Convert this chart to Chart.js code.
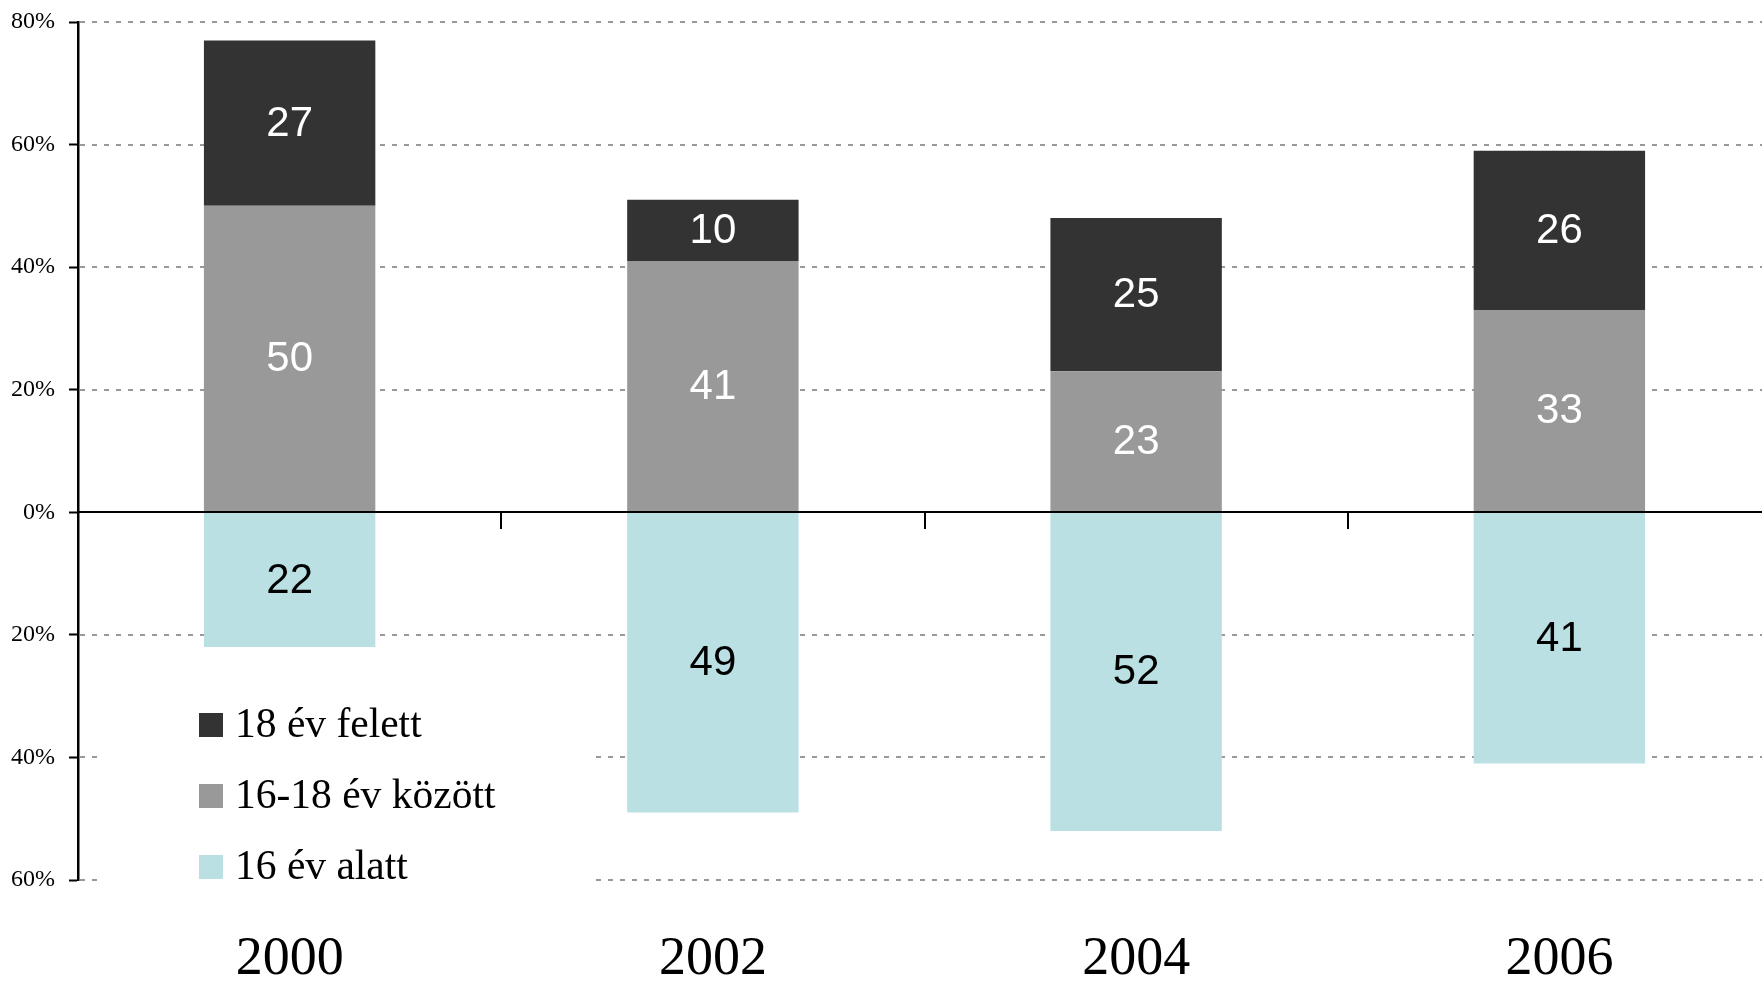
<!DOCTYPE html>
<html>
<head>
<meta charset="utf-8">
<script src="https://cdn.jsdelivr.net/npm/chart.js@4"></script>
<style>
  html, body { margin: 0; background: #fff; overflow: hidden; }
  #wrap { width: 1771px; height: 982px; position: relative; }
</style>
</head>
<body>
<div id="wrap"><canvas id="chart"></canvas></div>
<script>
// adatok
const years = ["2000", "2002", "2004", "2006"];
const felett = [27, 10, 25, 26];   // 18 év felett
const kozott = [50, 41, 23, 33];   // 16-18 év között
const alatt = [22, 49, 52, 41];    // 16 év alatt (lefelé)
const yMin = -60, yMax = 80, yStep = 20;

const colDark = "#333333";
const colGray = "#999999";
const colLight = "#bae0e3";
const serif = "'Liberation Serif', 'Times New Roman', serif";

// szaggatott rácsvonalak, nulla vonal, feliratok, jelmagyarázat
const extras = {
    id: "extras",
    beforeDatasetsDraw(chart) {
        const ctx = chart.ctx;
        const area = chart.chartArea;
        const y = chart.scales.y;
        ctx.save();
        ctx.strokeStyle = "#999999";
        ctx.lineWidth = 2;
        ctx.setLineDash([5, 7]);
        y.ticks.forEach(t => {
            if (t.value === 0) return;
            const py = Math.round(y.getPixelForValue(t.value));
            ctx.beginPath();
            ctx.moveTo(area.left + 2, py);
            ctx.lineTo(area.right, py);
            ctx.stroke();
        });
        ctx.restore();
    },
    afterDatasetsDraw(chart) {
        const ctx = chart.ctx;
        const area = chart.chartArea;
        const y = chart.scales.y;
        const x = chart.scales.x;
        ctx.save();
        // nulla vonal
        const zy = Math.round(y.getPixelForValue(0));
        ctx.strokeStyle = "#000";
        ctx.lineWidth = 2;
        ctx.beginPath();
        ctx.moveTo(area.left, zy);
        ctx.lineTo(area.right, zy);
        ctx.stroke();
        for (let i = 0; i < years.length - 1; i++) {
            const px = Math.round((x.getPixelForValue(i) + x.getPixelForValue(i + 1)) / 2);
            ctx.beginPath();
            ctx.moveTo(px, zy);
            ctx.lineTo(px, zy + 17);
            ctx.stroke();
        }

        // értékfeliratok
        ctx.font = "42px 'Liberation Sans', Arial, sans-serif";
        ctx.textAlign = "center";
        ctx.textBaseline = "middle";
        chart.data.datasets.forEach((ds, di) => {
            const meta = chart.getDatasetMeta(di);
            meta.data.forEach((el, i) => {
                const v = Math.abs(ds.data[i]);
                ctx.fillStyle = ds.labelColor;
                ctx.fillText(String(v), el.x, (el.y + el.base) / 2 + 1);
            });
        });

        // évszámok
        ctx.fillStyle = "#000";
        ctx.font = "54px " + serif;
        years.forEach((yr, i) => {
            ctx.fillText(yr, x.getPixelForValue(i), 960);
        });

        // jelmagyarázat
        ctx.fillStyle = "#fff";
        ctx.fillRect(area.left + 25, 688, 487, 210);
        const order = [1, 0, 2];
        ctx.font = "41.5px " + serif;
        ctx.textAlign = "left";
        order.forEach((di, k) => {
            const ds = chart.data.datasets[di];
            const cy = 725 + k * 71;
            ctx.fillStyle = ds.backgroundColor;
            ctx.fillRect(199, cy - 12, 24, 24);
            ctx.fillStyle = "#000";
            ctx.fillText(ds.label, 235, cy + 1);
        });
        ctx.restore();
    }
};

const ctxChart = document.getElementById("chart").getContext("2d");

const chart = new Chart(ctxChart, {
    type: "bar",
    data: {
        labels: years,
        datasets: [
            {
                label: "16-18 év között",
                data: kozott,
                backgroundColor: colGray,
                labelColor: "#fff",
                stack: "s"
            },
            {
                label: "18 év felett",
                data: felett,
                backgroundColor: colDark,
                labelColor: "#fff",
                stack: "s"
            },
            {
                label: "16 év alatt",
                data: alatt.map(v => -v),
                backgroundColor: colLight,
                labelColor: "#000",
                stack: "s"
            }
        ]
    },
    options: {
        responsive: true,
        maintainAspectRatio: false,
        animation: false,
        layout: {
            padding: { top: 22, left: 11, right: 0, bottom: 0 }
        },
        datasets: {
            bar: {
                categoryPercentage: 1,
                barPercentage: 0.405
            }
        },
        plugins: {
            legend: { display: false },
            tooltip: { enabled: false }
        },
        scales: {
            x: {
                stacked: true,
                grid: { display: false },
                border: { display: false },
                ticks: { display: false },
                afterFit: s => { s.height = 102; s.paddingLeft = 0; s.paddingRight = 0; }
            },
            y: {
                stacked: true,
                min: yMin,
                max: yMax,
                border: { display: true, color: "#000", width: 2.5 },
                grid: {
                    drawOnChartArea: false,
                    drawTicks: true,
                    tickLength: 9,
                    tickColor: "#000",
                    tickWidth: 2
                },
                ticks: {
                    stepSize: yStep,
                    padding: 14,
                    color: "#000",
                    font: { family: serif, size: 24 },
                    callback: v => Math.abs(v) + "%"
                },
                afterFit: s => { s.width = 67; s.paddingTop = 0; s.paddingBottom = 0; }
            }
        }
    },
    plugins: [extras]
});
</script>
</body>
</html>
